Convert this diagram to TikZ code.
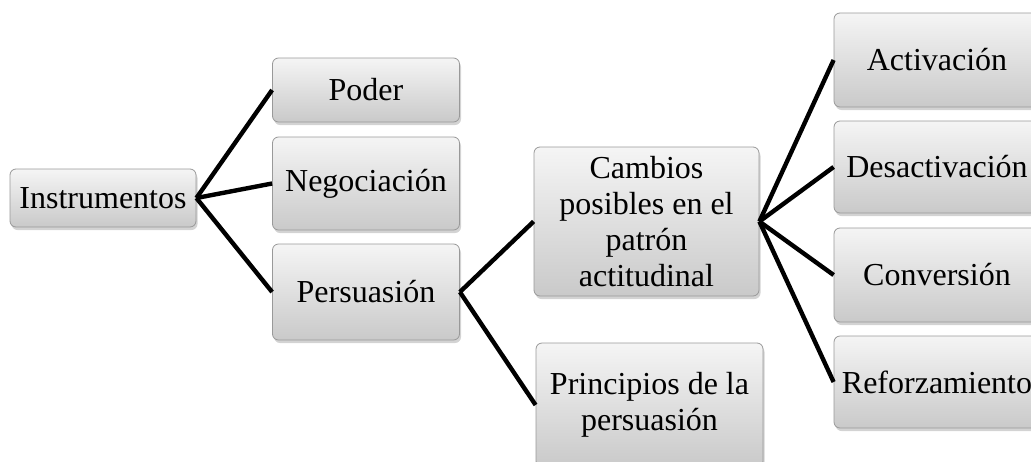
\documentclass[tikz,border=0pt]{standalone}
\usepackage{fontspec}
\setmainfont{Liberation Serif}
\usetikzlibrary{shadows}
\begin{document}
\begin{tikzpicture}[x=1pt,y=-1pt]
  \tikzset{ box/.style={rectangle,rounded corners=6pt,draw=gray!80,line width=0.8pt,
      top color=gray!8,bottom color=gray!42,align=center,inner sep=0pt,
      font=\fontsize{32}{36}\selectfont,
      drop shadow={shadow xshift=1.5pt,shadow yshift=-3pt,opacity=0.35}},
    link/.style={line width=4.4pt},
  }
  \clip (0,0) rectangle (1031,461);

  \node[box,minimum width=186pt,minimum height=58pt] (inst) at (103,198) {Instrumentos};
  \node[box,minimum width=187pt,minimum height=64pt] (poder) at (366,90) {Poder};
  \node[box,minimum width=187pt,minimum height=93pt] (nego) at (366,183.5) {Negociación};
  \node[box,minimum width=187pt,minimum height=96pt] (pers) at (366,292) {Persuasión};

  \node[box,minimum width=225pt,minimum height=149pt] (camb) at (646.5,221.5)
    {Cambios\\posibles en el\\patrón\\actitudinal};
  \node[box,minimum width=227pt,minimum height=124pt] (princ) at (649.5,405)
    {Principios de la\\persuasión};

  \node[box,minimum width=206pt,minimum height=94pt] (act) at (937,60) {Activación};
  \node[box,minimum width=206pt,minimum height=92pt] (desact) at (937,167) {Desactivación};
  \node[box,minimum width=206pt,minimum height=94pt] (conv) at (937,275) {Conversión};
  \node[box,minimum width=206pt,minimum height=92pt] (refor) at (937,382) {Reforzamiento};

  \draw[link] (inst.east) -- (poder.west);
  \draw[link] (inst.east) -- (nego.west);
  \draw[link] (inst.east) -- (pers.west);
  \draw[link] (pers.east) -- (camb.west);
  \draw[link] (pers.east) -- (princ.west);
  \draw[link] (camb.east) -- (act.west);
  \draw[link] (camb.east) -- (desact.west);
  \draw[link] (camb.east) -- (conv.west);
  \draw[link] (camb.east) -- (refor.west);

\end{tikzpicture}
\end{document}
